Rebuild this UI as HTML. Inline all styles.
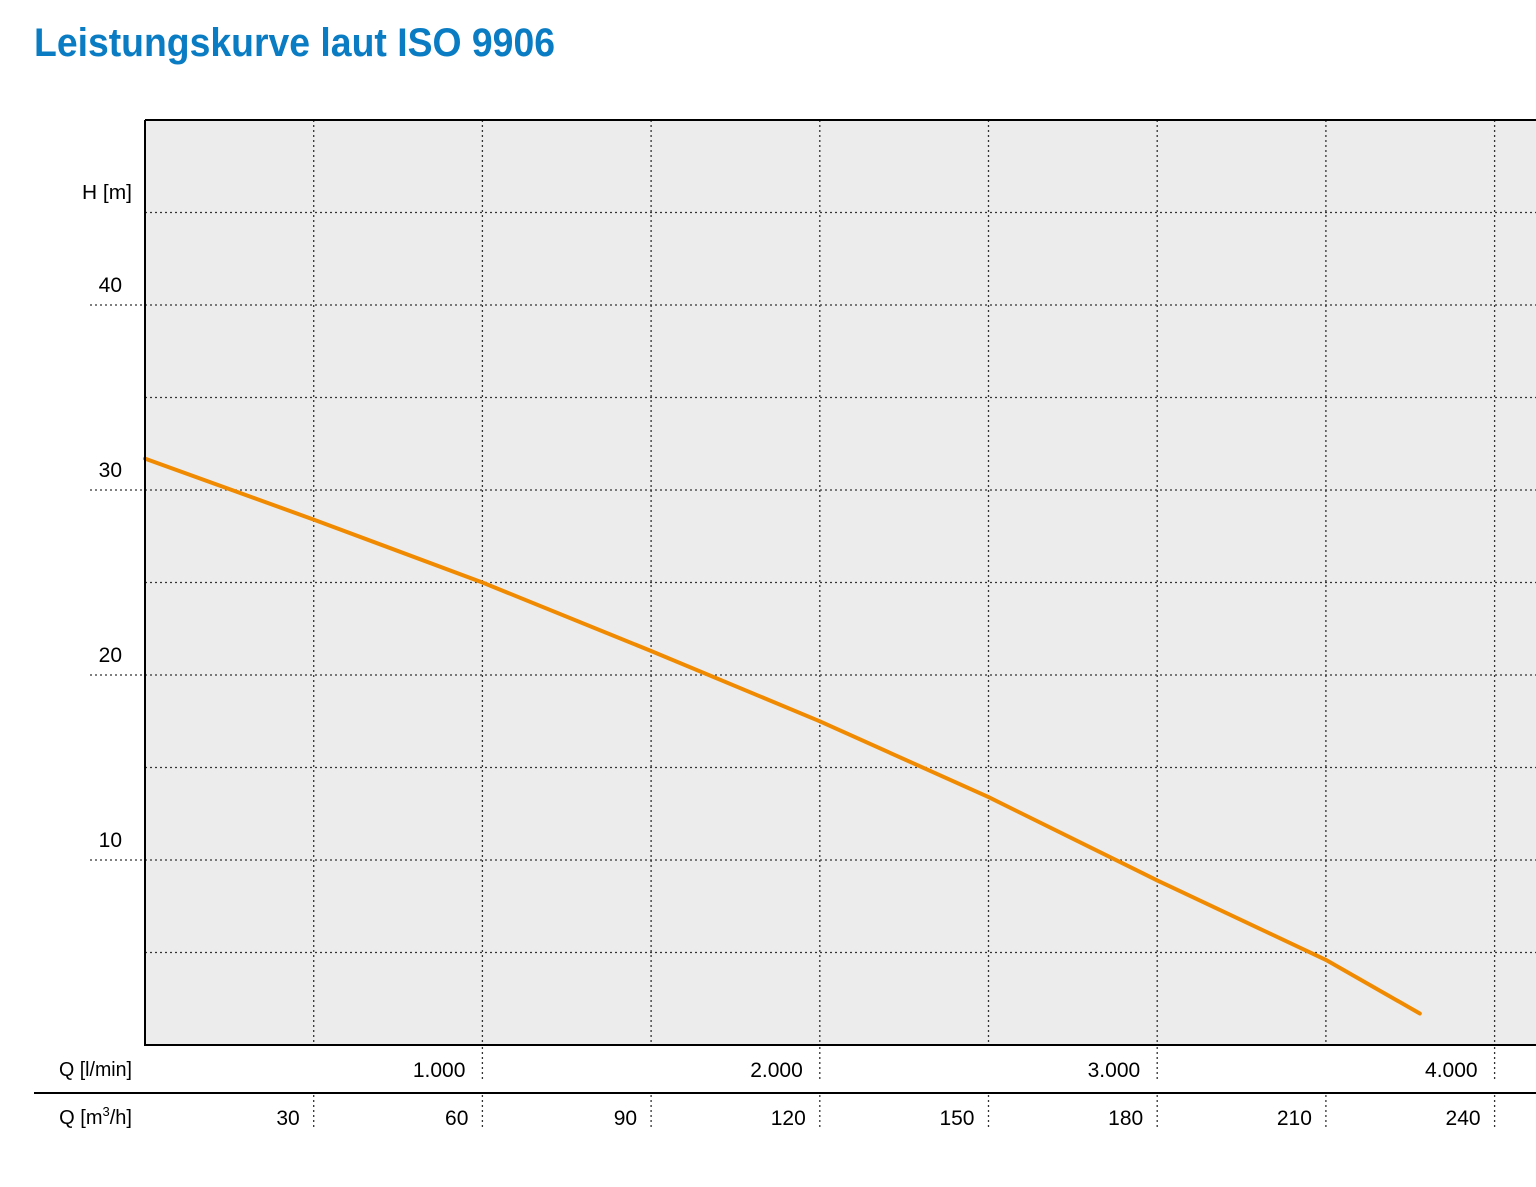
<!DOCTYPE html>
<html><head><meta charset="utf-8"><style>
body{margin:0;background:#fff;}
svg text{font-family:"Liberation Sans Narrow","Liberation Sans",sans-serif;}
</style></head><body>
<svg id="chart" width="1536" height="1182" xmlns="http://www.w3.org/2000/svg">
<text x="34" y="56" font-size="40" font-weight="bold" fill="#0a7cc4" textLength="521" lengthAdjust="spacingAndGlyphs">Leistungskurve laut ISO 9906</text>
<rect x="145" y="120" width="1400" height="925" fill="#ececec"/>
<g id="grid"></g>
<path id="curve" fill="none" stroke="#f08a00" stroke-width="4" stroke-linecap="round" stroke-linejoin="round"/>
<path d="M145,120 H1540 M145,120 V1045 H1540" stroke="#000" stroke-width="2" fill="none"/>
<text x="132" y="199" font-size="20" text-anchor="end" textLength="50" lengthAdjust="spacingAndGlyphs">H [m]</text>
<text x="132" y="1076" font-size="20" text-anchor="end" textLength="73" lengthAdjust="spacingAndGlyphs">Q [l/min]</text>
<text x="132" y="1124" font-size="20" text-anchor="end">Q [m<tspan font-size="13" dy="-8">3</tspan><tspan dy="8">/h]</tspan></text>
<line x1="34" y1="1093" x2="1536" y2="1093" stroke="#000" stroke-width="2"/>
<g id="labels"></g>
</svg>
<script>
const qValues=[0,30,60,90,120,150,180,210,226.7];
const hValues=[31.7,28.4,25.0,21.3,17.5,13.4,8.9,4.6,1.7];
const m3hTicks=[30,60,90,120,150,180,210,240];
const lminTicks=[1000,2000,3000,4000];
const lminLabels=["1.000","2.000","3.000","4.000"];
const hTicks=[10,20,30,40];
const hGrid=[5,10,15,20,25,30,35,40,45];
const X0=145,Y0=1045;
const xs=q=>X0+q*(168.7/30);
const ys=h=>Y0-h*18.5;
const NS="http://www.w3.org/2000/svg";
const grid=document.getElementById('grid'),labels=document.getElementById('labels');
function ln(p,x1,y1,x2,y2,name){const l=document.createElementNS(NS,'line');
l.setAttribute('x1',x1);l.setAttribute('y1',y1);l.setAttribute('x2',x2);l.setAttribute('y2',y2);
l.setAttribute('stroke','#333');l.setAttribute('stroke-width','1.3');l.setAttribute('stroke-dasharray','2 3');


p.appendChild(l);}
function tx(x,y,s,name){const t=document.createElementNS(NS,'text');
t.setAttribute('x',x);t.setAttribute('y',y);t.setAttribute('font-size','21');t.setAttribute('text-anchor','end');t.textContent=s;


labels.appendChild(t);}
m3hTicks.forEach(q=>{const x=xs(q);ln(grid,x,120,x,1045,'v-gridline');ln(grid,x,1095,x,1130,'m3h-tick');tx(x-14,1125,String(q),'m3h-tick-label');});
lminTicks.forEach((v,i)=>{const x=xs(v*0.06);ln(grid,x,1047,x,1082,'lmin-tick');tx(x-17,1077,lminLabels[i],'lmin-tick-label');});
hGrid.forEach(h=>{const y=ys(h);ln(grid,145,y,1536,y,'h-gridline');});
hTicks.forEach(h=>{const y=ys(h);ln(grid,90,y,145,y,'h-tick');tx(122,y-13,String(h),'h-tick-label');});
let d='';qValues.forEach((q,i)=>{d+=(i?'L':'M')+xs(q).toFixed(1)+','+ys(hValues[i]).toFixed(1);});
document.getElementById('curve').setAttribute('d',d);
</script>
</body></html>
